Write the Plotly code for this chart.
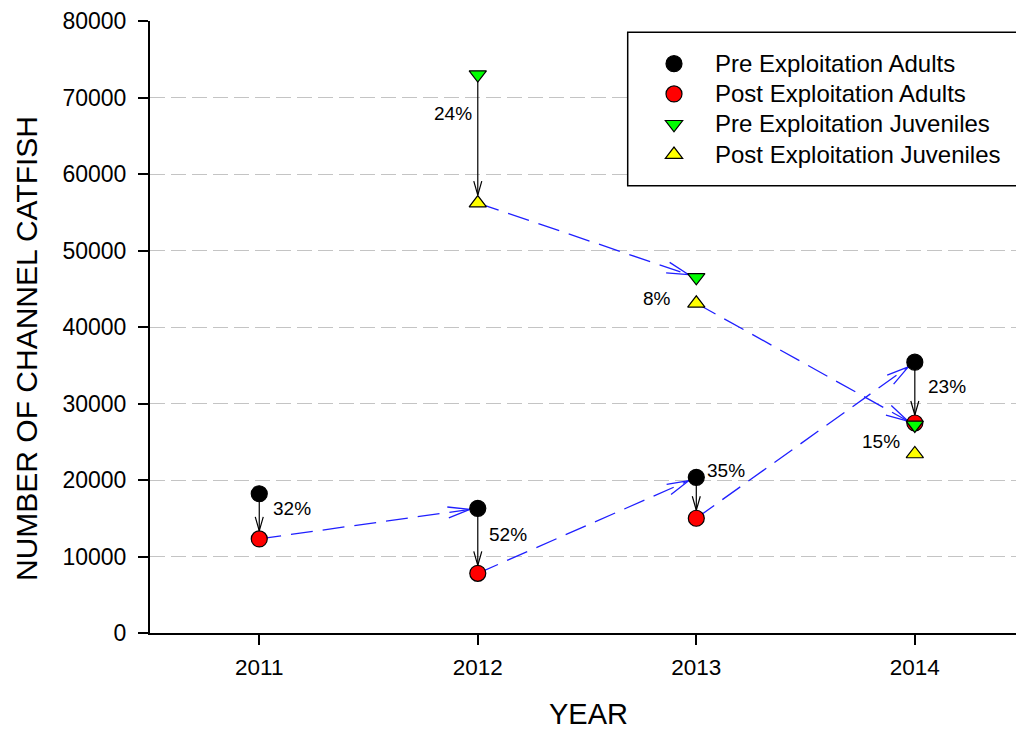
import math
import plotly.graph_objects as go

# ---------------- data ----------------
years = [2011, 2012, 2013, 2014]
pre_adults = [18200, 16300, 20350, 35400]
post_adults = [12300, 7800, 15000, 27450]
juv_years = [2012, 2013, 2014]
pre_juveniles = [73000, 46500, 27200]
post_juveniles = [56200, 43100, 23400]
adult_pct = ["32%", "52%", "35%", "23%"]
juv_pct = ["24%", "8%", "15%"]
juv_arrow_years = [2012]
x_ticks = [2011, 2012, 2013, 2014]
y_ticks = [0, 10000, 20000, 30000, 40000, 50000, 60000, 70000, 80000]

# ---------------- style ----------------
W, H = 1016, 732
ML, MR, MT, MB = 150, 0, 21, 99
XR = [2010.5, 2014.463]
YR = [0, 80000]
PW, PH = W - ML - MR, H - MT - MB
SX = PW / (XR[1] - XR[0])
SY = PH / (YR[1] - YR[0])
FONT = "Liberation Sans, Arial, sans-serif"
adult_label_shift = [(33, 8), (30, 6), (30, 27), (32, 6)]
juv_label_shift = [(-25, 25), (-39, -8), (-34, -2)]


def px_to_paper_x(px):
    return (px - ML) / PW


def py_to_paper_y(py):
    return (MT + PH - py) / PH


def head(x0, y0, x1, y1, L, Wd, off):
    dx, dy = (x1 - x0) * SX, (y1 - y0) * SY
    n = math.hypot(dx, dy)
    ux, uy = dx / n, dy / n
    tx, ty = x1 * SX - off * ux, y1 * SY - off * uy
    bx, by = tx - L * ux, ty - L * uy
    px, py = -uy, ux
    pts = [(bx + Wd * px, by + Wd * py), (tx, ty), (bx - Wd * px, by - Wd * py)]
    tip = (tx / SX, ty / SY)
    return [p[0] / SX for p in pts], [p[1] / SY for p in pts], tip


fig = go.Figure()


def add_line(xs, ys, color, width, dash=None):
    fig.add_trace(go.Scatter(x=xs, y=ys, mode="lines", showlegend=False, hoverinfo="skip",
                             line=dict(color=color, width=width, dash=dash)))


# vertical (exploitation) arrows
vert = [(y, a, b) for y, a, b in zip(years, pre_adults, post_adults)]
vert += [(y, a, b) for y, a, b in zip(juv_years, pre_juveniles, post_juveniles) if y in juv_arrow_years]
for yr, a, b in vert:
    hx, hy, tip = head(yr, a, yr, b, 14, 4, 8)
    add_line([yr, tip[0]], [a, tip[1]], "black", 1.2)
    add_line(hx, hy, "black", 1.2)

# year-to-year (growth) arrows
links = [(years[i], post_adults[i], years[i + 1], pre_adults[i + 1]) for i in range(len(years) - 1)]
links += [(juv_years[i], post_juveniles[i], juv_years[i + 1], pre_juveniles[i + 1]) for i in range(len(juv_years) - 1)]
for x0, y0, x1, y1 in links:
    hx, hy, tip = head(x0, y0, x1, y1, 22, 5.5, 8)
    add_line([x0, tip[0]], [y0, tip[1]], "#1f1fff", 1.3, "22px,10px")
    add_line(hx, hy, "#1f1fff", 1.3)


def lname(s):
    return "<span style='font-size:24px'>" + s + "</span>"


fig.add_trace(go.Scatter(x=years, y=pre_adults, mode="markers", name=lname("Pre Exploitation Adults"),
                         marker=dict(symbol="circle", size=16, color="black", line=dict(color="black", width=1.2))))
fig.add_trace(go.Scatter(x=years, y=post_adults, mode="markers", name=lname("Post Exploitation Adults"),
                         marker=dict(symbol="circle", size=16, color="#ff0000", line=dict(color="black", width=1.2))))
fig.add_trace(go.Scatter(x=juv_years, y=pre_juveniles, mode="markers", name=lname("Pre Exploitation Juveniles"),
                         marker=dict(symbol="triangle-down", size=15, color="#00ff00", line=dict(color="black", width=1.2))))
fig.add_trace(go.Scatter(x=juv_years, y=post_juveniles, mode="markers", name=lname("Post Exploitation Juveniles"),
                         marker=dict(symbol="triangle-up", size=15, color="#ffff00", line=dict(color="black", width=1.2))))

ann = []
for yr, a, b, t, (sx, sy) in zip(years, pre_adults, post_adults, adult_pct, adult_label_shift):
    ann.append(dict(x=yr, y=(a + b) / 2, text=t, showarrow=False, xshift=sx, yshift=sy,
                    font=dict(size=19, color="black", family=FONT)))
for yr, a, b, t, (sx, sy) in zip(juv_years, pre_juveniles, post_juveniles, juv_pct, juv_label_shift):
    ann.append(dict(x=yr, y=(a + b) / 2, text=t, showarrow=False, xshift=sx, yshift=sy,
                    font=dict(size=19, color="black", family=FONT)))
# axis titles (placed as text)
ann.append(dict(xref="paper", yref="paper", x=px_to_paper_x(26), y=py_to_paper_y(349),
                xanchor="center", yanchor="middle", text="NUMBER OF CHANNEL CATFISH", textangle=-90,
                showarrow=False, font=dict(size=30, color="black", family=FONT)))
ann.append(dict(xref="paper", yref="paper", x=px_to_paper_x(588), y=py_to_paper_y(714),
                xanchor="center", yanchor="middle", text="YEAR",
                showarrow=False, font=dict(size=29, color="black", family=FONT)))

fig.update_layout(
    width=W, height=H,
    margin=dict(l=ML, r=MR, t=MT, b=MB, pad=0),
    paper_bgcolor="white", plot_bgcolor="white",
    font=dict(family=FONT, color="black"),
    annotations=ann,
    shapes=[dict(type="rect", xref="paper", yref="paper",
                 x0=px_to_paper_x(627.7), x1=1.05,
                 y0=py_to_paper_y(185.7), y1=py_to_paper_y(32.3),
                 line=dict(color="black", width=1.5), fillcolor="white", layer="above")],
    legend=dict(x=px_to_paper_x(633), y=py_to_paper_y(43.5), xanchor="left", yanchor="top",
                bgcolor="rgba(0,0,0,0)", borderwidth=0, itemwidth=72,
                font=dict(size=21, family=FONT, color="black")),
    xaxis=dict(range=XR, tickvals=x_ticks, ticks="outside", ticklen=10, tickwidth=1.5, tickcolor="black",
               showline=True, linewidth=2, linecolor="black", showgrid=False, zeroline=False,
               ticklabelstandoff=3,
               tickfont=dict(size=22.5, family=FONT)),
    yaxis=dict(range=YR, tickvals=y_ticks, tickformat="d", ticks="outside", ticklen=10, tickwidth=1.5,
               tickcolor="black", ticklabelstandoff=7,
               showline=True, linewidth=2, linecolor="black", showgrid=True, gridcolor="#c4c4c4", gridwidth=1,
               griddash="15px,6px", zeroline=False,
               tickfont=dict(size=23, family=FONT)),
)

fig.write_html("out.html", config={"displayModeBar": False},
               post_script="document.body.style.margin='0px';document.body.style.overflow='hidden';"
                           "document.documentElement.style.overflow='hidden';")
